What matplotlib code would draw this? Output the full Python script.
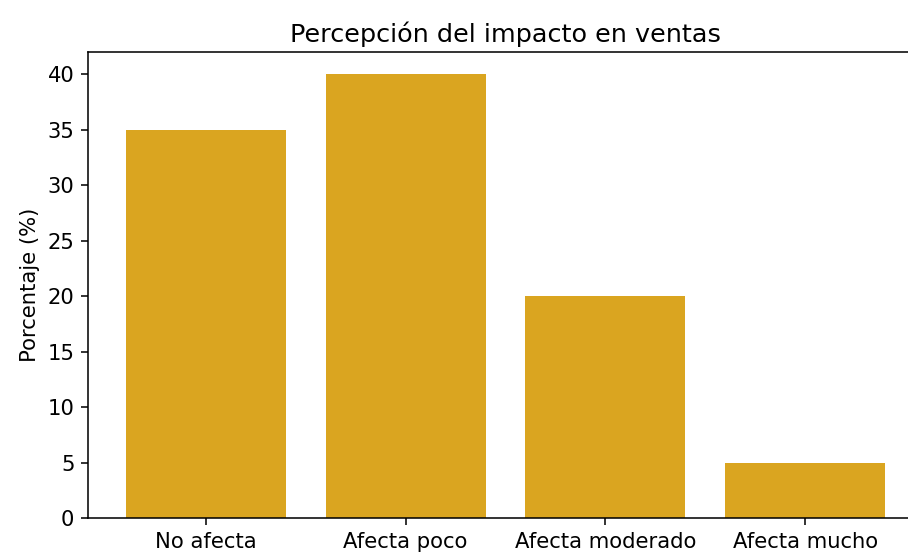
import matplotlib
matplotlib.use("Agg")
import matplotlib.pyplot as plt

# Survey answers about perceived impact on sales
categorias = ["No afecta", "Afecta poco", "Afecta moderado", "Afecta mucho"]
porcentajes = [35, 40, 20, 5]

plt.rcParams["font.size"] = 10.9

fig = plt.figure(figsize=(908 / 140, 557 / 140), dpi=140)
# axes run a bit past the right edge of the figure
ax = fig.add_axes([88 / 908, 39 / 557, 835 / 908, 466 / 557])

ax.bar(categorias, porcentajes, color="goldenrod")
ax.set_title("Percepción del impacto en ventas", fontsize=13.1, pad=5)
ax.set_ylabel("Porcentaje (%)")

fig.savefig("out.png", dpi=140)
